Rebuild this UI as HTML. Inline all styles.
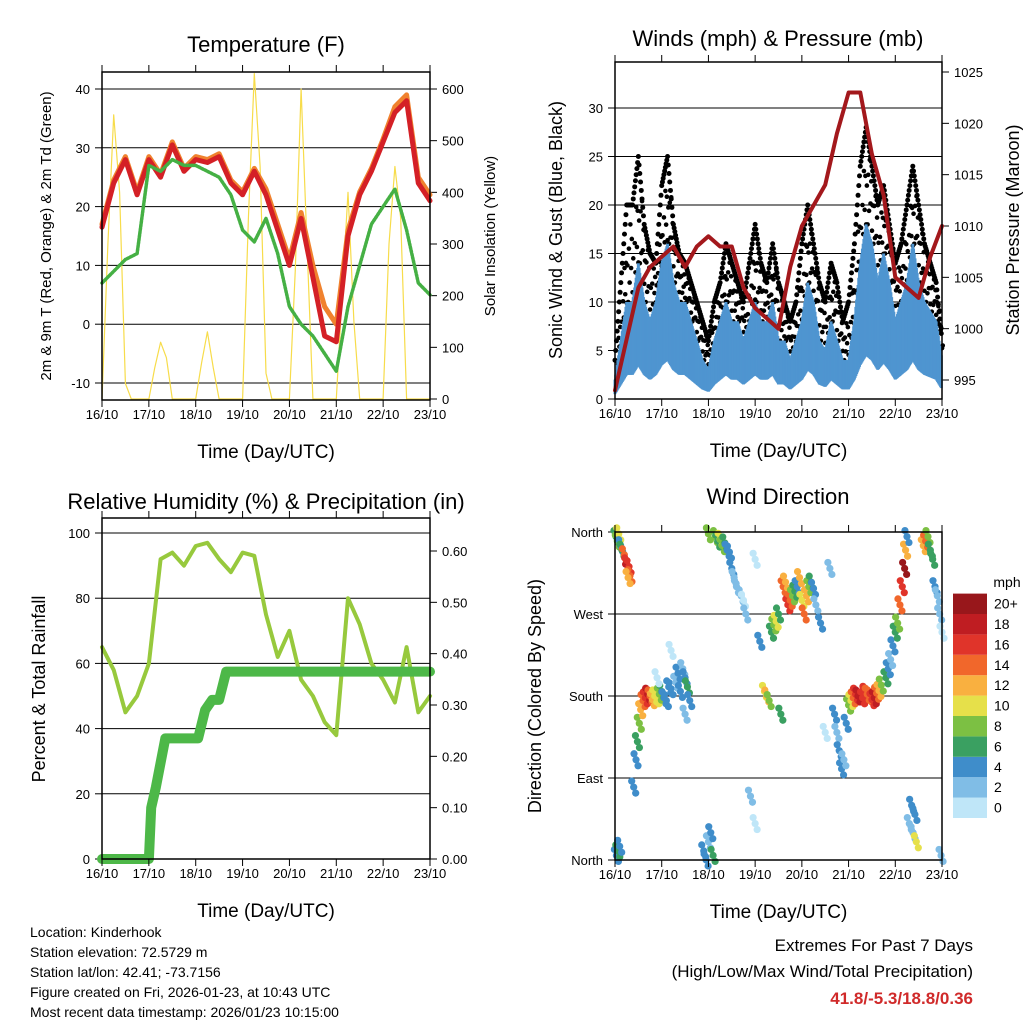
<!DOCTYPE html>
<html><head><meta charset="utf-8"><style>
body{margin:0;background:#fff}
svg{display:block;font-family:"Liberation Sans",sans-serif}
</style></head><body>
<svg id="s" width="1024" height="1024" viewBox="0 0 1024 1024"></svg>
<script>
// ---- data ----
const days=["16/10","17/10","18/10","19/10","20/10","21/10","22/10","23/10"];
const tQ=[0,.25,.5,.75,1,1.25,1.5,1.75,2,2.25,2.5,2.75,3,3.25,3.5,3.75,4,4.25,4.5,4.75,5,5.25,5.5,5.75,6,6.25,6.5,6.75,7];
const tempRed=[16.5,24,28,22,28,25,30.5,26,28,27.5,28.5,24,22,26,22,16,10,18,8,-2,-3,15,22,26,31,36,38,24,21];
const tempOrange=[17,24.5,28.5,22.5,28.5,25.5,31,26.5,28.5,28,29,24.5,22.5,26.5,23,17,11,19,10,3,0,16,22.5,26.5,31.5,37,39,25,22];
const dewGreen=[7,9,11,12,27,26,28,27,27,26,25,22,16,14,18,12,3,0,-2,-5,-8,3,10,17,20,23,16,7,5];
const solar=[0,300,550,400,30,0,0,0, 0,60,110,80,0,0,0,0, 0,70,130,60,0,0,0,0, 0,350,630,450,50,0,0,0, 0,250,600,300,0,0,0,0, 0,200,400,150,0,0,0,0, 0,300,450,350,0,0,0,0, 0];
const windSonic=[2,6,10,10,14,10,8,10, 14,16,12,10,10,8,6,4, 3,6,8,10,8,8,6,8, 10,8,8,10,6,6,4,6, 8,12,10,6,5,8,6,4, 4,8,14,18,16,12,15,12, 8,10,12,16,12,10,9,8, 4];
const windGust=[4,12,20,20,25,18,15,14, 22,25,18,15,14,12,10,8, 6,10,12,16,14,12,10,14, 18,14,12,16,12,10,8,10, 16,20,16,12,10,14,12,8, 10,16,24,28,24,20,22,18, 14,16,20,24,20,16,14,12, 6];
const pressure=[994,999,1004,1006,1007,1008,1006,1008,1009,1008,1008,1004,1002,1001,1000,1006,1010,1012,1014,1019,1023,1023,1017,1013,1005,1004,1003,1007,1010];
const rh=[65,58,45,50,60,92,94,90,96,97,92,88,94,93,75,62,70,55,50,42,38,80,72,60,55,48,65,45,50];
const precipT=[0,1.0,1.05,1.15,1.35,2.05,2.2,2.35,2.5,2.65,7];
const precipV=[0,0,0.10,0.14,0.235,0.235,0.29,0.31,0.31,0.365,0.365];
const dirT=[0.02,0.05,0.08,0.12,0.15,0.2,0.25,0.27,0.3,0.32,
 0.28,0.03,0.06,0.1,0.4,0.45,0.48,0.52,0.55,0.6,
 0.65,0.7,0.75,0.8,0.85,0.9,0.95,1.0,1.05,1.1,
 1.15,1.2,1.3,1.35,1.4,1.45,1.5,1.55,1.6,1.2,
 1.5,1.9,1.95,2.0,2.05,2.1,2.0,2.15,2.2,2.25,
 2.3,2.35,2.4,2.45,2.5,2.55,2.6,2.7,2.75,2.8,
 3.0,3.1,3.2,3.25,3.3,3.35,3.4,3.45,3.5,3.55,
 3.6,3.65,3.7,3.75,3.8,3.85,3.9,3.95,4.0,4.05,
 4.1,4.15,4.2,4.25,4.3,4.4,4.7,4.75,4.8,4.85,
 4.9,4.95,5.0,5.05,5.1,5.15,5.2,5.3,5.35,5.4,
 5.45,5.5,5.55,5.6,5.65,5.7,5.8,5.85,5.9,5.95,
 6.0,6.05,6.1,6.15,6.2,6.22,6.25,6.3,6.35,6.38,
 6.42,6.45,6.6,6.65,6.7,6.75,6.8,6.85,6.9,6.95,
 7.0,6.98,0.9,2.9,3.0,4.5,4.6];
const dirDeg=[355,350,358,345,340,335,325,318,322,312,
 310,5,10,15,80,110,130,150,165,175,
 178,182,180,176,180,178,182,185,178,175,
 190,188,195,205,185,210,200,190,175,230,
 160,10,0,20,30,5,358,355,350,352,
 345,348,340,338,320,310,300,290,285,270,
 330,240,185,180,175,250,258,262,270,160,
 300,305,280,285,290,295,300,310,285,270,
 290,300,305,298,280,260,160,140,120,100,
 110,150,170,175,178,182,180,178,184,182,
 180,176,178,183,186,192,200,210,220,235,
 250,260,280,300,320,340,355,40,60,30,
 50,20,345,350,355,340,330,300,290,270,
 250,5,200,70,40,140,320];
const dirSpd=[6,8,10,4,6,14,16,18,16,14,
 12,4,6,4,4,4,6,8,12,14,
 16,18,14,12,10,10,8,6,4,4,
 4,4,2,4,4,2,4,6,4,0,
 2,4,4,2,4,6,8,8,6,10,
 8,6,4,4,4,2,2,2,0,2,
 0,4,10,12,8,6,8,10,6,6,
 14,12,16,14,8,6,4,12,10,14,
 12,8,6,4,2,4,4,2,4,4,
 2,4,8,10,14,16,18,16,16,14,
 14,16,18,14,12,8,6,4,2,4,
 6,8,14,16,20,12,4,2,4,2,
 4,10,12,14,8,6,6,4,2,2,
 0,2,0,2,0,0,2];
const spdLabels=["0","2","4","6","8","10","12","14","16","18","20+"];
const spdColors=["#bfe6f8","#80bde6","#3f8dca","#3aa061","#7cc043","#e6e04a","#f9b040","#f1672b","#e0342a","#bf1d22","#98171b"];

const S=document.getElementById('s');
const NS="http://www.w3.org/2000/svg";
function el(tag,attrs,parent){const e=document.createElementNS(NS,tag);for(const k in attrs)e.setAttribute(k,attrs[k]);(parent||S).appendChild(e);return e;}
function txt(x,y,s,size,anchor,rot,fill,weight){const t=el('text',{x:x,y:y,'font-size':size,'text-anchor':anchor||'middle',fill:fill||'#000'});if(weight)t.setAttribute('font-weight',weight);if(rot)t.setAttribute('transform','rotate('+rot+' '+x+' '+y+')');t.textContent=s;return t;}
function panel(x0,x1,y0,y1){return {x0,x1,y0,y1,xs:d=>x0+(x1-x0)*d/7};}
function scale(v0,p0,v1,p1){return v=>p0+(v-v0)*(p1-p0)/(v1-v0);}
function frame(P,name){
  const g=el('g',{});
  
  
  el('rect',{x:P.x0,y:P.y0,width:P.x1-P.x0,height:P.y1-P.y0,fill:'none',stroke:'#000','stroke-width':1.5},g);
  for(let i=0;i<days.length;i++){const x=P.xs(i);
    el('line',{x1:x,x2:x,y1:P.y1,y2:P.y1+7,stroke:'#000'},g);
    el('line',{x1:x,x2:x,y1:P.y0,y2:P.y0-7,stroke:'#000'},g);
    const t=txt(x,P.y1+19,days[i],13);
    
    }
  const xt=txt((P.x0+P.x1)/2,P.y1+58,'Time (Day/UTC)',19);
  
  
}
function yTicks(P,ys,vals,labels,side,grid){
  const g=el('g',{});
  
  
  vals.forEach((v,i)=>{const y=ys(v);
    if(grid)el('line',{x1:P.x0,x2:P.x1,y1:y,y2:y,stroke:'#000','stroke-width':1},g);
    if(side==='l'){el('line',{x1:P.x0-7,x2:P.x0,y1:y,y2:y,stroke:'#000'},g);txt(P.x0-12,y+5,labels[i],13,'end',0,null,null);}
    else{el('line',{x1:P.x1,x2:P.x1+7,y1:y,y2:y,stroke:'#000'},g);txt(P.x1+12,y+5,labels[i],13,'start');}
  });
}
function line(pts,stroke,w,name,extra){const p=el('polyline',{points:pts.map(a=>a[0].toFixed(1)+','+a[1].toFixed(1)).join(' '),fill:'none',stroke:stroke,'stroke-width':w,'stroke-linejoin':'round','stroke-linecap':'round'});
  
  
  if(extra)for(const k in extra)p.setAttribute(k,extra[k]);return p;}

// ---------- Panel 1: Temperature ----------
const P1=panel(102,430,72,400);
const yT=scale(-10,383,40,89), yS=scale(0,399,600,89);
yTicks(P1,yT,[-10,0,10,20,30,40],["-10","0","10","20","30","40"],'l',true);
yTicks(P1,yS,[0,100,200,300,400,500,600],["0","100","200","300","400","500","600"],'r',false);
line(solar.map((v,i)=>[P1.xs(i/8),yS(v)]),'#f7dc4a',1.2,'solar-insolation-line');
line(tempOrange.map((v,i)=>[P1.xs(tQ[i]),yT(v)]),'#f0822e',5,'temp-9m-line');
line(tempRed.map((v,i)=>[P1.xs(tQ[i]),yT(v)]),'#d42026',5,'temp-2m-line');
line(dewGreen.map((v,i)=>[P1.xs(tQ[i]),yT(v)]),'#45b044',3.5,'dewpoint-line',{'stroke-dasharray':'2 1.5'});
frame(P1,'temperature-frame');
txt(266,52,'Temperature (F)',22);
txt(51,236,'2m & 9m T (Red, Orange) & 2m Td (Green)',15,'middle',-90);
txt(495,236,'Solar Insolation (Yellow)',15,'middle',-90);

// ---------- Panel 2: Winds ----------
const P2=panel(615,942,62,399);
const yW=scale(0,399,30,108), yP=scale(995,380,1025,72);
yTicks(P2,yW,[0,5,10,15,20,25,30],["0","5","10","15","20","25","30"],'l',true);
yTicks(P2,yP,[995,1000,1005,1010,1015,1020,1025],["995","1000","1005","1010","1015","1020","1025"],'r',false);
const gG=el('g',{});


const gB=el('g',{});


const jit=[0,0.55,0.2,0.8,0.35,0.65,0.1,0.45];
for(let i=0;i<windGust.length-1;i++){for(let k=0;k<8;k++){const f=k/8;
  const g=windGust[i]+(windGust[i+1]-windGust[i])*f;
  const s=windSonic[i]+(windSonic[i+1]-windSonic[i])*f;
  const x=P2.xs((i+f)/8);
  el('line',{x1:x,x2:x,y1:yW(s),y2:yW(s*0.25),stroke:'#4f95d0','stroke-width':3},gB);
  el('circle',{cx:x,cy:yW(g),r:2.5,fill:'#000'},gG);
  el('circle',{cx:x+1.5,cy:yW(s+(g-s)*jit[k]),r:2.3,fill:'#000'},gG);}}
S.appendChild(gB);
line(pressure.map((v,i)=>[P2.xs(tQ[i]),yP(v)]),'#a3181c',4,'pressure-line');
frame(P2,'winds-frame');
txt(778,46,'Winds (mph) & Pressure (mb)',22);
txt(562,230,'Sonic Wind & Gust (Blue, Black)',18,'middle',-90);
txt(1019,230,'Station Pressure (Maroon)',18,'middle',-90);

// ---------- Panel 3: RH & precip ----------
const P3=panel(102,430,518,859);
const yR=scale(0,859,100,533), yPr=scale(0,859,0.6,551);
yTicks(P3,yR,[0,20,40,60,80,100],["0","20","40","60","80","100"],'l',true);
yTicks(P3,yPr,[0,.1,.2,.3,.4,.5,.6],["0.00","0.10","0.20","0.30","0.40","0.50","0.60"],'r',false);
line(rh.map((v,i)=>[P3.xs(tQ[i]),yR(v)]),'#97c93d',4,'rh-line');
line(precipV.map((v,i)=>[P3.xs(precipT[i]),yPr(v)]),'#4db848',10,'precip-line');
frame(P3,'rh-frame');
txt(266,509,'Relative Humidity (%) & Precipitation (in)',22);
txt(45,689,'Percent & Total Rainfall',18,'middle',-90);

// ---------- Panel 4: Wind direction ----------
const P4=panel(615,942,532,860);
const yD=scale(0,860,360,532);
yTicks(P4,yD,[0,90,180,270,360],["North","East","South","West","North"],'l',true);
const gD=el('g',{});


const n=Math.min(dirT.length,dirDeg.length,dirSpd.length);
for(let i=0;i<n;i++){const ci=Math.min(10,Math.round(dirSpd[i]/2));
  const x=P4.xs(dirT[i]),y=yD(dirDeg[i]);
  el('circle',{cx:x,cy:y,r:3.6,fill:spdColors[ci]},gD);
  el('circle',{cx:x+2,cy:y+6,r:3.6,fill:spdColors[ci]},gD);
  el('circle',{cx:x-2,cy:y-6,r:3.6,fill:spdColors[ci]},gD);}
frame(P4,'direction-frame');
txt(778,504,'Wind Direction',22);
txt(541,696,'Direction (Colored By Speed)',18,'middle',-90);
const gC=el('g',{});


spdColors.forEach((c,i)=>{const y=818-(i+1)*20.4;el('rect',{x:953,y:y,width:34,height:20.4,fill:c},gC);
  txt(994,y+15,spdLabels[i],14,'start');});
txt(1007,587,'mph',14);

// ---------- footer ----------
const info=["Location: Kinderhook","Station elevation: 72.5729 m","Station lat/lon: 42.41; -73.7156","Figure created on Fri, 2026-01-23, at 10:43 UTC","Most recent data timestamp: 2026/01/23 10:15:00"];
info.forEach((s,i)=>{const t=txt(30,937+i*20,s,14,'start');
  
  });
txt(973,951,'Extremes For Past 7 Days',17,'end');
txt(973,977,'(High/Low/Max Wind/Total Precipitation)',17,'end');
txt(973,1004,'41.8/-5.3/18.8/0.36',17,'end',0,'#d02a2a','bold');
</script>
</body></html>
